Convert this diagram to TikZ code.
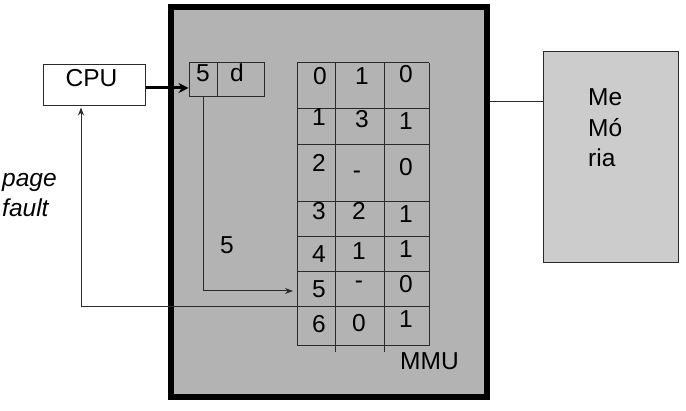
\documentclass[tikz,border=0pt]{standalone}
\usepackage{fontspec}
\setmainfont{Liberation Sans}
\usetikzlibrary{arrows.meta}
\definecolor{mmugray}{HTML}{B3B3B3}
\definecolor{memgray}{HTML}{CCCCCC}
\definecolor{linegray}{HTML}{2A2A2A}
\tikzset{
  txt/.style={inner sep=0pt, anchor=base, font=\fontsize{24.5}{28}\selectfont},
  txtl/.style={txt, anchor=base west},
  thin/.style={draw=linegray, line width=1pt},
  box/.style={rectangle, inner sep=0pt},
}
\begin{document}
\begin{tikzpicture}[x=1pt,y=-1pt]
\useasboundingbox (0,0) rectangle (686,411);
% MMU box
\node[box, fill=mmugray, draw=black, line width=6pt, minimum width=316pt, minimum height=390pt] (mmu) at (329,202) {};
% Memory box
\node[box, fill=memgray, draw=linegray, line width=1pt, minimum width=135pt, minimum height=211pt] (mem) at (610.5,157.5) {};
\node[txtl] (me1) at (588,106) {Me};
\node[txtl] (me2) at (588,137) {Mó};
\node[txtl] (me3) at (588,167) {ria};
% CPU
\node[box, fill=white, draw=linegray, line width=1pt, minimum width=102pt, minimum height=41pt] (cpu) at (94,85.5) {};
\node[txt] (cputxt) at (91.5,87) {CPU};
% address register
\node[box, draw=linegray, line width=1pt, minimum width=28pt, minimum height=34pt] (addr5) at (203,80) {};
\node[box, draw=linegray, line width=1pt, minimum width=47pt, minimum height=34pt] (addrd) at (240.5,80) {};
\node[txt] (a5) at (203,82) {5};
\node[txt] (ad) at (237,82) {d};
% CPU -> address arrow
\draw[line width=3pt, -{Stealth[length=10pt,width=10pt]}] ([yshift=-2.5pt]cpu.east) -- ([yshift=-8pt]addr5.west);
% table grid
\draw[thin] (297,63) -- (297,346);
\draw[thin] (335,63) -- (335,352);
\draw[thin] (384,63) -- (384,352);
\draw[thin] (429,63) -- (429,346);
\foreach \yy in {63,109,145,202,237,272,307,346}
  \draw[thin] (297,\yy) -- (429,\yy);
% table entries
\node[txt] (t00) at (320,85) {0};
\node[txt] (t01) at (362,85) {1};
\node[txt] (t02) at (406,83) {0};
\node[txt] (t10) at (319,126) {1};
\node[txt] (t11) at (362,128) {3};
\node[txt] (t12) at (406,130) {1};
\node[txt] (t20) at (319,172) {2};
\node[txt] (t21) at (357,179) {-};
\node[txt] (t22) at (406,176) {0};
\node[txt] (t30) at (319,220) {3};
\node[txt] (t31) at (359,220) {2};
\node[txt] (t32) at (406,223) {1};
\node[txt] (t40) at (319,263) {4};
\node[txt] (t41) at (359,260) {1};
\node[txt] (t42) at (406,258) {1};
\node[txt] (t50) at (319,298) {5};
\node[txt] (t51) at (359,289) {-};
\node[txt] (t52) at (406,293) {0};
\node[txt] (t60) at (319,333) {6};
\node[txt] (t61) at (359,332) {0};
\node[txt] (t62) at (406,328) {1};
\node[txtl] (mmulbl) at (400,370) {MMU};
% page number path
\coordinate (row5in) at (293,291);
\draw[thin, -{Stealth[length=8pt,width=6pt]}] (addr5.south) |- (row5in);
\node[txt] (five) at (227,254) {5};
% page fault path
\coordinate (row5out) at (297,307);
\draw[thin, -{Stealth[length=8pt,width=6pt]}] (row5out) -| ([xshift=-13pt,yshift=-1pt]cpu.south);
\node[txtl, font=\fontsize{24.5}{28}\selectfont\itshape] (pf1) at (2,187) {page};
\node[txtl, font=\fontsize{24.5}{28}\selectfont\itshape] (pf2) at (2,217) {fault};
% MMU to memory
\draw[thin] (mmu.east |- 0,102) -- (mem.west |- 0,102);
\end{tikzpicture}
\end{document}
